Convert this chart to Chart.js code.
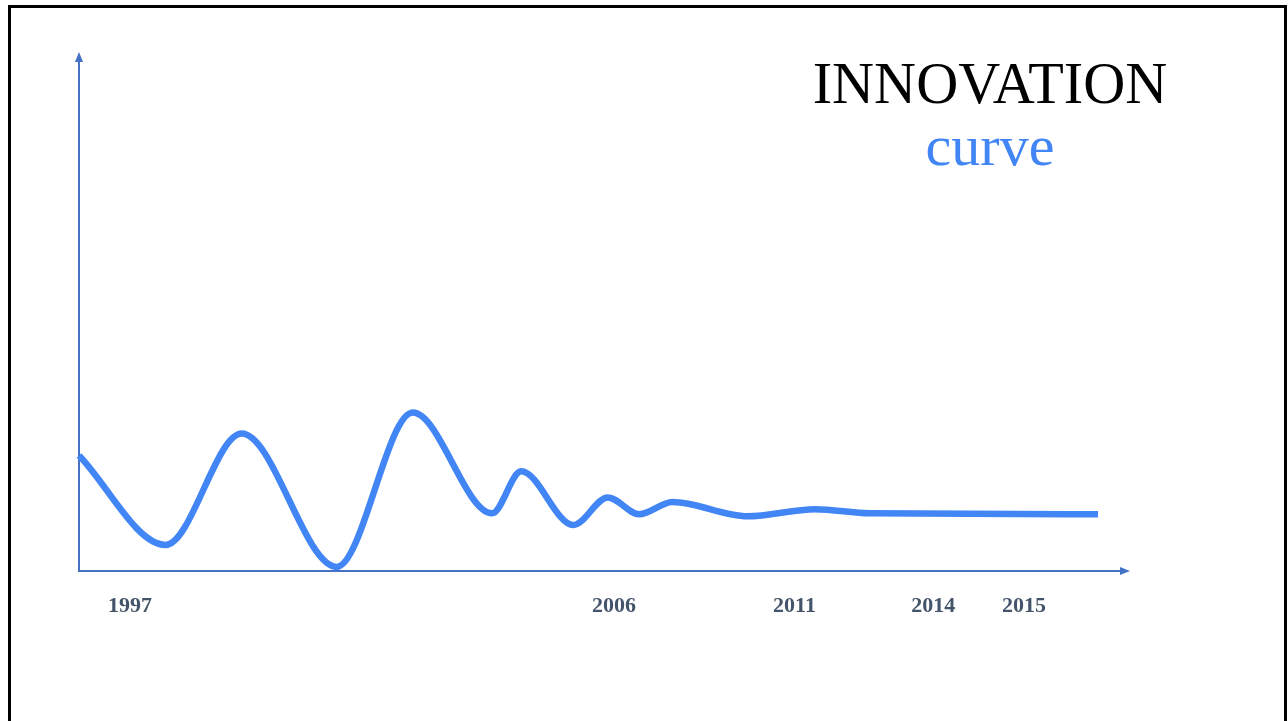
<!DOCTYPE html>
<html>
<head>
<meta charset="utf-8">
<script src="https://cdn.jsdelivr.net/npm/chart.js@4.4.0/dist/chart.umd.min.js"></script>
<style>
  html, body { margin: 0; padding: 0; background: #fff; overflow: hidden; }
  #frame { position: absolute; left: 8px; top: 5px; width: 1273px; height: 800px; border: 3px solid #000; border-bottom: none; }
  #wrap { position: absolute; left: 0; top: 0; width: 1288px; height: 721px; }
  .title { position: absolute; left: 790px; width: 400px; text-align: center; font-family: "Liberation Serif", "Times New Roman", serif; line-height: 1; white-space: nowrap; }
  #t1 { top: 53px; font-size: 60px; color: #000; transform: scaleX(0.97); }
  #t2 { top: 117px; font-size: 58px; color: #4285F4; }
</style>
</head>
<body>
<div id="frame"></div>
<div id="wrap"><canvas id="innovationChart" width="1288" height="721"></canvas></div>
<div class="title" id="t1">INNOVATION</div>
<div class="title" id="t2">curve</div>
<script>
// curve: time position (0-100) and level (0-100)
const curveX = [0, 8.3, 15.6, 24.7, 32.0, 39.6, 42.4, 47.4, 50.7, 53.7, 56.9, 64.1, 70.6, 75.8, 97.7];
const curveY = [22.6, 5.1, 26.9, 0.8, 31.0, 11.3, 19.5, 9.0, 14.4, 11.1, 13.5, 10.7, 12.1, 11.3, 11.1];

// year labels under the axis and where they sit on the time scale
const yearLabels = ['1997', '2006', '2011', '2014', '2015'];
const yearTicks = [4.9, 51.3, 68.6, 81.9, 90.6];

const axisColor = '#4472C4';

const arrowHeads = {
    id: 'arrowHeads',
    afterDraw(chart) {
        const { ctx, chartArea } = chart;
        ctx.save();
        ctx.fillStyle = axisColor;
        // up arrow on y axis
        ctx.beginPath();
        ctx.moveTo(chartArea.left, chartArea.top - 8);
        ctx.lineTo(chartArea.left - 4, chartArea.top + 2);
        ctx.lineTo(chartArea.left + 4, chartArea.top + 2);
        ctx.closePath();
        ctx.fill();
        // right arrow on x axis
        ctx.beginPath();
        ctx.moveTo(chartArea.right + 8, chartArea.bottom);
        ctx.lineTo(chartArea.right - 2, chartArea.bottom - 4);
        ctx.lineTo(chartArea.right - 2, chartArea.bottom + 4);
        ctx.closePath();
        ctx.fill();
        ctx.restore();
    }
};

new Chart(document.getElementById('innovationChart'), {
    type: 'line',
    data: {
        datasets: [{
            data: curveX.map((x, i) => ({ x: x, y: curveY[i] })),
            borderColor: '#4285F4',
            borderWidth: 6.5,
            pointRadius: 0,
            cubicInterpolationMode: 'monotone',
            clip: false,
            fill: false
        }]
    },
    options: {
        responsive: false,
        animation: false,
        devicePixelRatio: 1,
        layout: {
            padding: { left: 79, top: 60, right: 166, bottom: 0 }
        },
        plugins: {
            legend: { display: false },
            tooltip: { enabled: false }
        },
        scales: {
            x: {
                type: 'linear',
                min: 0,
                max: 100,
                grid: { display: false, drawTicks: false },
                border: { display: true, color: axisColor, width: 2 },
                afterBuildTicks: (scale) => {
                    scale.ticks = yearTicks.map(v => ({ value: v }));
                },
                afterFit: (scale) => {
                    scale.height = 150;
                },
                ticks: {
                    autoSkip: false,
                    maxRotation: 0,
                    padding: 22,
                    color: '#44546A',
                    font: { family: '"Liberation Serif", "Times New Roman", serif', size: 22, weight: 'bold' },
                    callback: (value) => yearLabels[yearTicks.indexOf(value)]
                }
            },
            y: {
                type: 'linear',
                min: 0,
                max: 100,
                grid: { display: false, drawTicks: false },
                border: { display: true, color: axisColor, width: 2 },
                ticks: { display: false },
                afterFit: (scale) => {
                    scale.width = 0;
                }
            }
        }
    },
    plugins: [arrowHeads]
});
</script>
</body>
</html>
